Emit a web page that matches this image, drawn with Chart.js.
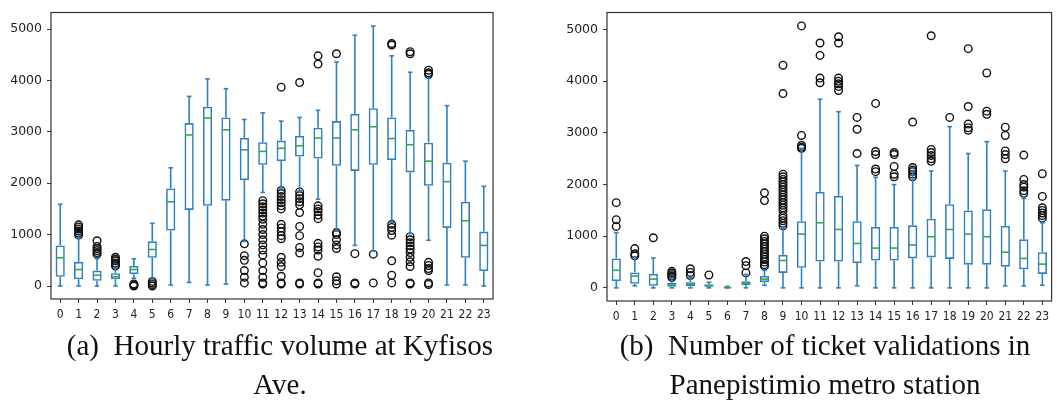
<!DOCTYPE html>
<html>
<head>
<meta charset="utf-8">
<script src="https://cdn.jsdelivr.net/npm/chart.js@4.4.1/dist/chart.umd.min.js"></script>
<style>
  body { margin: 0; background: #fff; width: 1057px; height: 403px; overflow: hidden; position: relative; }
  canvas { position: absolute; }
  #trafficChart { left: 0; top: 0; }
  #validChart { left: 556px; top: 0; }
  .caption { position: absolute; font-family: "Liberation Serif", serif; font-size: 29px; color: #111; text-align: center; line-height: 38px; white-space: nowrap; transform: scaleY(1.05); }
</style>
</head>
<body>
<canvas id="trafficChart" width="500" height="325"></canvas>
<canvas id="validChart" width="501" height="328"></canvas>
<div class="caption" style="left:30px; top:326px; width:500px;">(a)&nbsp; Hourly traffic volume at Kyfisos<br>Ave.</div>
<div class="caption" style="left:575px; top:326px; width:500px;">(b)&nbsp; Number of ticket validations in<br>Panepistimio metro station</div>
<script>
const hours = ['0','1','2','3','4','5','6','7','8','9','10','11','12','13','14','15','16','17','18','19','20','21','22','23'];
const yTicks = [0, 1000, 2000, 3000, 4000, 5000];

// (a) hourly traffic volume, Kyfisos Ave.
const trafficLo  = [0, 0, 0, 0, 150, 130, 20, 70, 20, 40, 870, 1820, 1890, 1850, 1690, 1070, 790, 680, 1240, 1020, 890, 20, 20, 0];
const trafficQ1  = [180, 130, 100, 130, 230, 550, 1080, 1480, 1560, 1660, 2060, 2360, 2430, 2520, 2480, 2340, 2240, 2360, 2450, 2210, 1950, 1130, 550, 290];
const trafficMed = [550, 320, 210, 180, 320, 710, 1640, 2940, 3270, 3040, 2650, 2620, 2680, 2730, 2880, 2880, 3040, 3100, 2870, 2750, 2430, 2030, 1270, 790];
const trafficQ3  = [790, 470, 300, 250, 390, 870, 1900, 3170, 3490, 3280, 2880, 2800, 2830, 2920, 3080, 3210, 3350, 3460, 3280, 3040, 2790, 2400, 1640, 1060];
const trafficHi  = [1590, 940, 530, 360, 530, 1220, 2300, 3690, 4030, 3840, 3240, 3370, 3210, 3280, 3420, 4360, 4880, 5060, 4480, 4160, 4040, 3510, 2430, 1940];
const trafficOut = [
    [],
    [990, 1030, 1070, 1110, 1150, 1190],
    [620, 650, 690, 730, 770, 880],
    [390, 420, 450, 490, 520, 560],
    [0, 20, 40],
    [0, 30, 60, 90],
    [], [], [], [],
    [60, 170, 300, 500, 590, 820],
    [40, 60, 170, 300, 450, 600, 700, 800, 900, 1000, 1100, 1200, 1300, 1360, 1420, 1480, 1540, 1600, 1660],
    [40, 60, 190, 380, 460, 560, 920, 980, 1060, 1130, 1200, 1500, 1560, 1620, 1680, 1740, 1800, 1860, 3870],
    [40, 60, 640, 750, 980, 1160, 1430, 1580, 1640, 1700, 1760, 1830, 3960],
    [40, 60, 260, 580, 700, 760, 830, 1310, 1380, 1450, 1500, 1560, 4320, 4480],
    [40, 100, 180, 730, 800, 900, 1000, 1040, 4520],
    [40, 60, 630],
    [60, 620],
    [60, 210, 490, 990, 1080, 1140, 1200, 4690, 4720],
    [40, 60, 380, 470, 560, 650, 720, 780, 840, 900, 960, 4520, 4560],
    [30, 60, 300, 340, 400, 460, 4120, 4150, 4200],
    [], [], []
];

// (b) ticket validations, Panepistimio metro station
const validLo  = [0, 40, 0, 0, 0, 0, 0, 0, 50, 0, 0, 0, 0, 40, 0, 0, 0, 0, 0, 0, 0, 40, 40, 50];
const validQ1  = [130, 80, 40, 20, 30, 20, 0, 50, 110, 290, 390, 510, 510, 480, 530, 530, 570, 590, 560, 450, 450, 410, 360, 270];
const validMed = [340, 230, 170, 60, 70, 40, 5, 90, 170, 530, 1040, 1260, 1130, 860, 770, 770, 830, 990, 1130, 1040, 990, 690, 570, 460];
const validQ3  = [570, 300, 270, 100, 110, 70, 15, 130, 230, 640, 1290, 1860, 1780, 1290, 1180, 1180, 1210, 1340, 1620, 1500, 1520, 1200, 940, 690];
const validHi  = [1070, 600, 580, 180, 200, 110, 30, 260, 340, 1150, 2700, 3650, 3410, 2370, 2140, 2000, 2260, 2260, 3120, 2600, 2830, 2260, 1730, 1260];
const validOut = [
    [1190, 1320, 1650],
    [620, 660, 760],
    [970],
    [200, 230, 260, 290, 320],
    [240, 300, 370],
    [250],
    [],
    [290, 430, 510],
    [420, 450, 500, 550, 600, 650, 700, 750, 800, 850, 900, 950, 1000, 1690, 1840],
    [1200, 1250, 1300, 1350, 1400, 1500, 1550, 1600, 1650, 1700, 1750, 1800, 1850, 1900, 1950, 2000, 2050, 2100, 2150, 2200, 3760, 4310],
    [2700, 2720, 2760, 2950, 5070],
    [3970, 4060, 4500, 4740],
    [3820, 3900, 3950, 4000, 4060, 4740, 4860],
    [2600, 3070, 3300],
    [2250, 2300, 2580, 2640, 3570],
    [2150, 2200, 2350, 2580, 2620],
    [2150, 2200, 2250, 2280, 2330, 3210],
    [2450, 2500, 2560, 2620, 2680, 4880],
    [3300],
    [3050, 3100, 3170, 3510, 4630],
    [3360, 3420, 4160],
    [2500, 2580, 2650, 2950, 3110],
    [1830, 1880, 1950, 2000, 2100, 2570],
    [1350, 1400, 1450, 1500, 1550, 1770, 2210]
];

const BOX_BLUE = '#2f80c0';
const MED_GREEN = '#3aa83a';

// whiskers, caps and medians, drawn right after the boxes (dataset 0)
const boxParts = {
    id: 'boxParts',
    afterDatasetDraw(chart, args, opts) {
        if (args.index !== 0) return;
        const { ctx, scales: { x, y } } = chart;
        const unit = x.getPixelForValue(1) - x.getPixelForValue(0);
        const capHalf = unit * 0.125;
        const boxHalf = unit * 0.25;
        const seg = (x1, y1, x2, y2, color) => {
            ctx.strokeStyle = color;
            ctx.beginPath();
            ctx.moveTo(x1, y1);
            ctx.lineTo(x2, y2);
            ctx.stroke();
        };
        ctx.save();
        ctx.lineWidth = 1.6;
        opts.lo.forEach((lo, i) => {
            const cx = x.getPixelForValue(i);
            const yLo = y.getPixelForValue(lo);
            const yHi = y.getPixelForValue(opts.hi[i]);
            const yMed = y.getPixelForValue(opts.med[i]);
            seg(cx, y.getPixelForValue(opts.q1[i]), cx, yLo, BOX_BLUE);
            seg(cx, y.getPixelForValue(opts.q3[i]), cx, yHi, BOX_BLUE);
            seg(cx - capHalf, yLo, cx + capHalf, yLo, BOX_BLUE);
            seg(cx - capHalf, yHi, cx + capHalf, yHi, BOX_BLUE);
            seg(cx - boxHalf + 1, yMed, cx + boxHalf - 1, yMed, MED_GREEN);
        });
        ctx.restore();
    },
    afterDraw(chart) {
        const { ctx, chartArea: a } = chart;
        ctx.save();
        ctx.strokeStyle = '#333';
        ctx.lineWidth = 1.2;
        ctx.strokeRect(a.left, a.top, a.right - a.left, a.bottom - a.top);
        ctx.restore();
    }
};

function makeBoxChart(id, s) {
    const ctx = document.getElementById(id);
    // outliers as points, x given as the hour label so the category scale places them
    const fliers = [];
    s.out.forEach((list, i) => list.forEach(v => fliers.push({ x: hours[i], y: v })));

    return new Chart(ctx, {
        type: 'bar',
        data: {
            labels: hours,
            datasets: [{
                data: s.q1.map((v, i) => [v, s.q3[i]]),
                backgroundColor: 'rgba(0,0,0,0)',
                borderColor: BOX_BLUE,
                borderWidth: 1.6,
                borderSkipped: false,
                barPercentage: 0.5,
                categoryPercentage: 1.0
            }, {
                type: 'scatter',
                data: fliers,
                pointStyle: 'circle',
                pointRadius: 3.8,
                backgroundColor: 'rgba(0,0,0,0)',
                borderColor: '#111',
                borderWidth: 1.4
            }]
        },
        options: {
            responsive: false,
            animation: false,
            layout: { padding: { top: s.padTop, right: s.padRight, left: 0, bottom: 0 } },
            plugins: {
                legend: { display: false },
                tooltip: { enabled: false },
                boxParts: { lo: s.lo, q1: s.q1, med: s.med, q3: s.q3, hi: s.hi }
            },
            scales: {
                x: {
                    type: 'category',
                    offset: true,
                    border: { display: false },
                    grid: { display: true, drawOnChartArea: false, drawTicks: true, tickLength: 4, color: '#333', offset: false },
                    ticks: {
                        padding: 5,
                        maxRotation: 0,
                        autoSkip: false,
                        color: '#222',
                        font: { family: 'DejaVu Sans Condensed', size: 12 }
                    },
                    afterFit: scale => { scale.height = s.xAxisH; }
                },
                y: {
                    min: s.yMin,
                    max: s.yMax,
                    border: { display: false },
                    grid: { display: true, drawOnChartArea: false, drawTicks: true, tickLength: 4, color: '#333' },
                    ticks: {
                        padding: 5,
                        color: '#222',
                        font: { family: 'DejaVu Sans', size: 12.5 },
                        callback: value => String(value)
                    },
                    afterBuildTicks: scale => { scale.ticks = yTicks.map(v => ({ value: v })); },
                    afterFit: scale => { scale.width = 51; }
                }
            }
        },
        plugins: [boxParts]
    });
}

makeBoxChart('trafficChart', {
    lo: trafficLo, q1: trafficQ1, med: trafficMed, q3: trafficQ3, hi: trafficHi, out: trafficOut,
    yMin: -253, yMax: 5323, padTop: 10, padRight: 7, xAxisH: 26
});

makeBoxChart('validChart', {
    lo: validLo, q1: validQ1, med: validMed, q3: validQ3, hi: validHi, out: validOut,
    yMin: -254, yMax: 5330, padTop: 7, padRight: 1, xAxisH: 27
});
</script>
</body>
</html>
